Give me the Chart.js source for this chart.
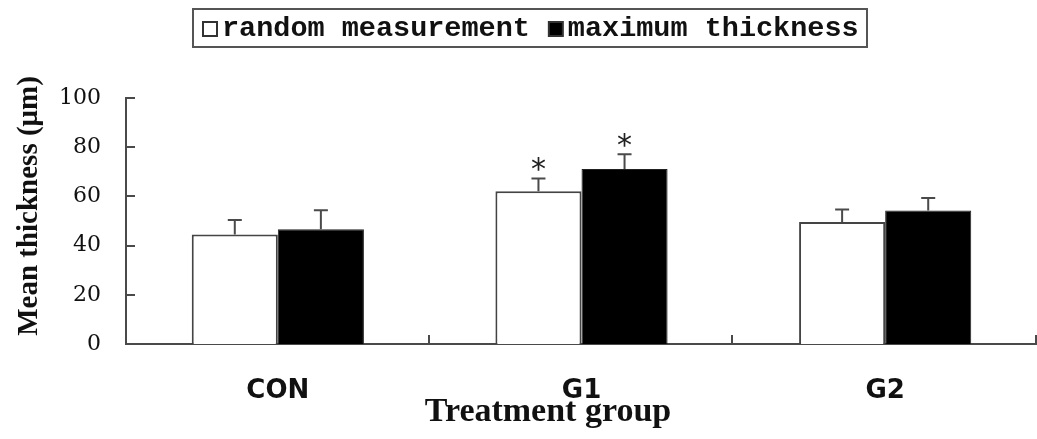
<!DOCTYPE html>
<html>
<head>
<meta charset="utf-8">
<script src="https://cdn.jsdelivr.net/npm/chart.js@4.4.1/dist/chart.umd.min.js"></script>
<style>
  html, body { margin: 0; padding: 0; background: #fff; }
  #wrap { width: 1037px; height: 439px; }
</style>
</head>
<body>
<div id="wrap"><canvas id="thicknessChart" width="1037" height="439"></canvas></div>
<script>
// categories and series
const groups = ['CON', 'G1', 'G2'];
const seriesNames = ['random measurement', 'maximum thickness'];
const randomMean = [44.5, 62.1, 49.6];
const randomSD = [5.9, 5.2, 5.1];
const maxMean = [46.6, 71.1, 54.3];
const maxSD = [7.8, 6.0, 5.1];
const randomSig = ['', '*', ''];
const maxSig = ['', '*', ''];
const yTicks = [0, 20, 40, 60, 80, 100];

const yTitle = 'Mean thickness (\u03bcm)';
const xTitle = 'Treatment group';

// error bars + significance stars
const errorBarPlugin = {
    id: 'errorBars',
    afterDatasetsDraw(chart) {
        const ctx = chart.ctx;
        const yScale = chart.scales.y;
        chart.data.datasets.forEach(function(ds, di) {
            const meta = chart.getDatasetMeta(di);
            meta.data.forEach(function(bar, i) {
                const top = yScale.getPixelForValue(ds.data[i] + ds.sd[i]);
                ctx.save();
                ctx.strokeStyle = '#4a4a4a';
                ctx.lineWidth = 2;
                ctx.beginPath();
                ctx.moveTo(bar.x, bar.y);
                ctx.lineTo(bar.x, top);
                ctx.moveTo(bar.x - 7, top);
                ctx.lineTo(bar.x + 7, top);
                ctx.stroke();
                if (ds.sig[i]) {
                    ctx.fillStyle = '#222';
                    ctx.font = '30px "DejaVu Sans"';
                    ctx.textAlign = 'center';
                    ctx.textBaseline = 'alphabetic';
                    ctx.fillText(ds.sig[i], bar.x, top + 1);
                }
                ctx.restore();
            });
        });
    }
};

// inward tick marks, legend box and axis titles
const decorPlugin = {
    id: 'decor',
    afterDraw(chart) {
        const ctx = chart.ctx;
        const area = chart.chartArea;
        const x = chart.scales.x;
        const y = chart.scales.y;
        ctx.save();
        ctx.strokeStyle = '#4a4a4a';
        ctx.lineWidth = 2;
        ctx.beginPath();
        y.ticks.forEach(function(t) {
            const py = Math.round(y.getPixelForValue(t.value));
            ctx.moveTo(area.left, py);
            ctx.lineTo(area.left + 9, py);
        });
        const cw = x.width / groups.length;
        for (let i = 0; i < groups.length; i++) {
            const px = Math.round(x.getPixelForValue(i) + cw / 2) - 1;
            ctx.moveTo(px, area.bottom);
            ctx.lineTo(px, area.bottom - 9);
        }
        ctx.stroke();

        // legend
        ctx.font = 'bold 28.5px "Liberation Mono"';
        ctx.textBaseline = 'alphabetic';
        ctx.textAlign = 'left';
        let lx = 203;
        chart.data.datasets.forEach(function(ds) {
            ctx.fillStyle = ds.backgroundColor;
            ctx.fillRect(lx, 22, 14, 14);
            ctx.lineWidth = 2;
            ctx.strokeStyle = '#333';
            ctx.strokeRect(lx, 22, 14, 14);
            ctx.fillStyle = '#111';
            ctx.fillText(ds.label, lx + 19, 36);
            lx += 19 + ctx.measureText(ds.label).width + 19;
        });
        ctx.strokeStyle = '#555';
        ctx.lineWidth = 2;
        ctx.strokeRect(193, 9, 674, 38);

        // axis titles
        ctx.fillStyle = '#111';
        ctx.font = 'bold 34px "Liberation Serif"';
        ctx.textAlign = 'center';
        ctx.fillText(xTitle, 548, 421);
        ctx.translate(37, 206);
        ctx.rotate(-Math.PI / 2);
        ctx.font = 'bold 29px "Liberation Serif"';
        ctx.fillText(yTitle, 0, 0);
        ctx.restore();
    }
};

const ctx = document.getElementById('thicknessChart').getContext('2d');
new Chart(ctx, {
    type: 'bar',
    data: {
        labels: groups,
        datasets: [
            {
                label: seriesNames[0],
                data: randomMean,
                sd: randomSD,
                sig: randomSig,
                backgroundColor: '#ffffff',
                borderColor: '#444',
                borderWidth: 2
            },
            {
                label: seriesNames[1],
                data: maxMean,
                sd: maxSD,
                sig: maxSig,
                backgroundColor: '#000000',
                borderColor: '#222',
                borderWidth: 1
            }
        ]
    },
    options: {
        responsive: false,
        animation: false,
        layout: { padding: { top: 98, left: 0, right: 0, bottom: 0 } },
        datasets: { bar: { categoryPercentage: 0.567, barPercentage: 1 } },
        scales: {
            x: {
                grid: { display: false },
                border: { color: '#4a4a4a', width: 2 },
                ticks: {
                    color: '#111',
                    padding: 24,
                    font: { family: '"DejaVu Sans"', size: 26, weight: 'bold' }
                },
                afterFit: function(s) { s.height = 95; }
            },
            y: {
                min: 0,
                max: 100,
                grid: { display: false },
                border: { color: '#4a4a4a', width: 2 },
                afterBuildTicks: function(s) { s.ticks = yTicks.map(v => ({ value: v })); },
                ticks: {
                    color: '#111',
                    padding: 17,
                    font: { family: '"DejaVu Serif"', size: 22 }
                },
                afterFit: function(s) { s.width = 126; }
            }
        },
        plugins: {
            legend: { display: false },
            tooltip: { enabled: false }
        }
    },
    plugins: [errorBarPlugin, decorPlugin]
});
</script>
</body>
</html>
